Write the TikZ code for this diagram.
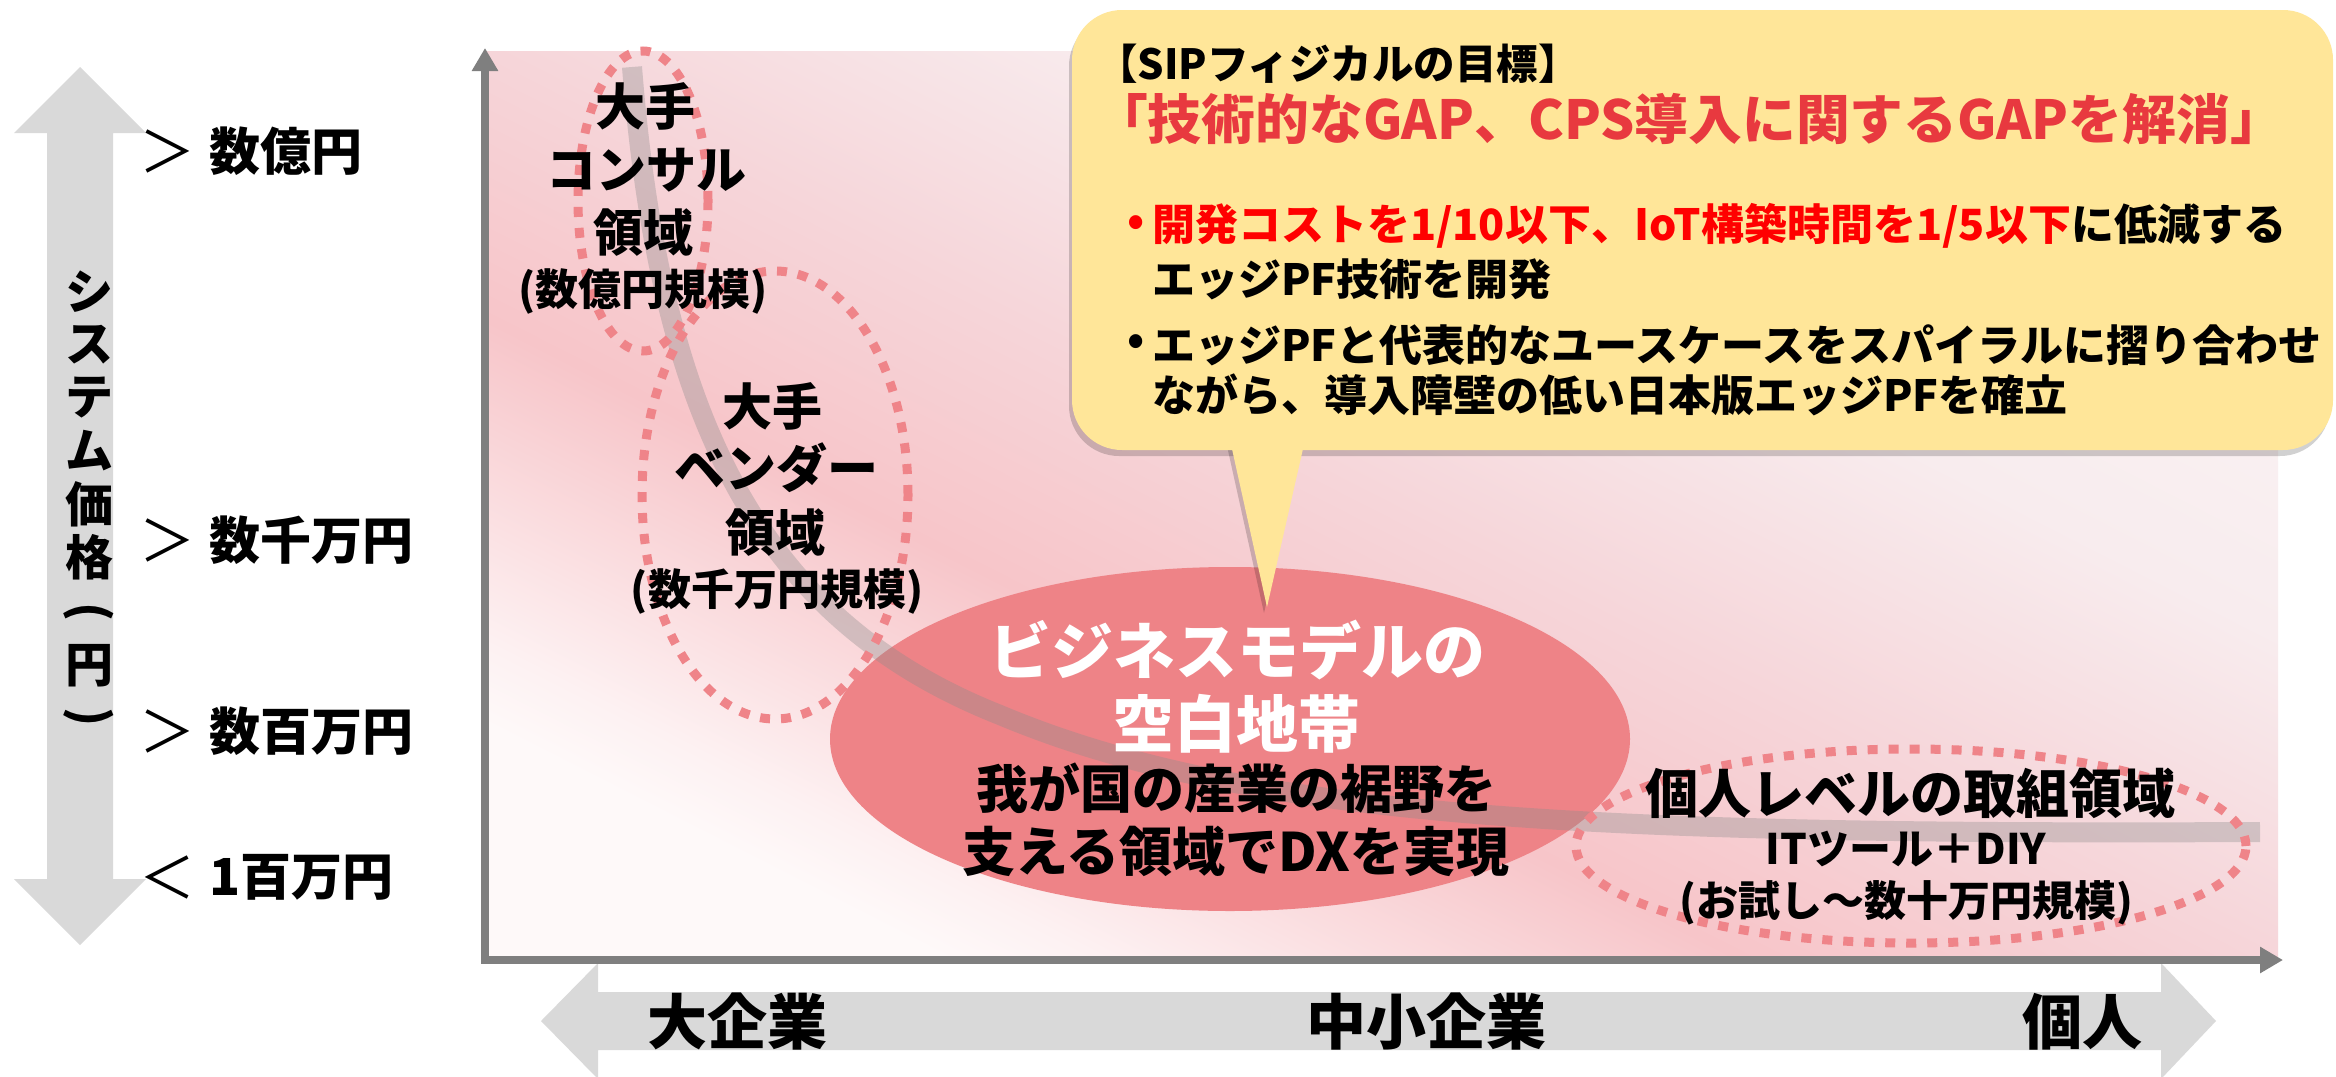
\documentclass[tikz,border=0pt]{standalone}
\usepackage{fontspec}
\setmainfont{Noto Sans CJK JP}
\usetikzlibrary{arrows.meta}
\definecolor{arrowgray}{HTML}{D9D9D9}
\definecolor{axisgray}{HTML}{7F7F7F}
\definecolor{dotpink}{HTML}{EF8489}
\definecolor{gapred}{HTML}{EE8387}
\definecolor{calloutfill}{HTML}{FFE699}
\definecolor{titlered}{HTML}{E8393F}
\definecolor{bulletred}{HTML}{FF0000}
\definecolor{curvegray}{HTML}{8C8C8C}
\definecolor{bgA}{HTML}{FEF9F9}
\definecolor{bgB}{HTML}{FDF1F2}
\definecolor{bgS}{HTML}{F7C5C9}
\definecolor{bgM}{HTML}{F6D5D9}
\definecolor{bgL}{HTML}{F8ECEE}
\definecolor{bgT}{HTML}{FAF3F4}
\pgfdeclareverticalshading{chartbg}{100bp}{color(0bp)=(bgA); color(25bp)=(bgA); color(28bp)=(bgB); color(40bp)=(bgS); color(50bp)=(bgM); color(62bp)=(bgL); color(75bp)=(bgT); color(100bp)=(bgT)}
\tikzset{
  txt/.style={inner sep=0pt, outer sep=0pt, font=\bfseries\fontsize{#1}{#1}\selectfont},
  thin/.style={inner sep=0pt, outer sep=0pt, font=\mdseries\fontsize{#1}{#1}\selectfont},
  dotell/.style={draw=dotpink, line width=9pt, dash pattern=on 10pt off 11pt},
  bigarrow/.style={fill=arrowgray},
  curveline/.style={draw=curvegray, draw opacity=0.35, line width=20pt},
}
\begin{document}
\begin{tikzpicture}[x=1pt,y=-1pt]
\useasboundingbox (0,0) rectangle (2336,1076);
\fill[white] (0,0) rectangle (2336,1076);

% left double arrow
\fill[bigarrow] (80,67) -- (146,133) -- (113,133) -- (113,879) -- (146,879) -- (80,945)
  -- (14,879) -- (47,879) -- (47,133) -- (14,133) -- cycle;
% bottom double arrow
\fill[bigarrow] (541,1021) -- (598,963) -- (598,992) -- (2161,992) -- (2161,963) -- (2216,1021)
  -- (2161,1079) -- (2161,1050) -- (598,1050) -- (598,1079) -- cycle;

% chart background
\shade[shading=chartbg, shading angle=-27] (484,51) rectangle (2278,958);

% axes
\coordinate (ytip) at (485,48);
\coordinate (origin) at (485,960);
\coordinate (xtip) at (2283,960);
\draw[axisgray, line width=8pt, {Triangle[length=23pt,width=25pt]}-{Triangle[length=23pt,width=25pt]}]
  (ytip) -- (origin) -- (xtip);

% red ellipse
\fill[gapred] (1230,739) ellipse [x radius=400pt, y radius=172pt];

% curve
\coordinate (cstart) at (632,67);
\coordinate (cmid) at (1000,715);
\coordinate (cend) at (2260,832);
\draw[curveline] (cstart) .. controls (660,420) and (760,620) .. (cmid)
  .. controls (1250,820) and (1600,835) .. (cend);

% dotted ellipses
\draw[dotell] (643,201) ellipse [x radius=65pt, y radius=150pt];
\draw[dotell] (775,495) ellipse [x radius=133pt, y radius=224pt];
\draw[dotell] (1911,846) ellipse [x radius=335pt, y radius=97pt];

% vertical axis label
\node[txt=48] (v1) at (89,292) {シ};
\node[txt=48] (v2) at (89,345) {ス};
\node[txt=48] (v3) at (89,398) {テ};
\node[txt=48] (v4) at (89,451) {ム};
\node[txt=48] (v5) at (89,504) {価};
\node[txt=48] (v6) at (89,557) {格};
\node[txt=48, rotate=-90] (v7) at (89,612) {(};
\node[txt=48] (v8) at (89,666) {円};
\node[txt=48, rotate=-90] (v9) at (89,717) {)};

% tick labels
\node[thin=56] (g1) at (167,151) {＞};
\node[txt=51, anchor=west] (l1) at (209,151) {数億円};
\node[thin=56] (g2) at (167,540) {＞};
\node[txt=51, anchor=west] (l2) at (209,540) {数千万円};
\node[thin=56] (g3) at (167,731) {＞};
\node[txt=51, anchor=west] (l3) at (209,731) {数百万円};
\node[thin=56] (g4) at (167,877) {＜};
\node[txt=51, anchor=west] (l4) at (209,877) {1百万円};

% consulting area
\node[txt=50] (c1) at (645,106) {大手};
\node[txt=50] (c2) at (646,170) {コンサル};
\node[txt=50] (c3) at (643,233) {領域};
\node[txt=43] (c4) at (643,291) {(数億円規模)};

% vendor area
\node[txt=50] (d1) at (772,406) {大手};
\node[txt=51] (d2) at (776,468) {ベンダー};
\node[txt=50] (d3) at (775,533) {領域};
\node[txt=43] (d4) at (777,591) {(数千万円規模)};

% gap ellipse text
\node[txt=62, text=white] (e1) at (1237,650) {ビジネスモデルの};
\node[txt=62, text=white] (e2) at (1236,724) {空白地帯};
\node[txt=52] (e3) at (1236,788) {我が国の産業の裾野を};
\node[txt=53] (e4) at (1236,852) {支える領域でDXを実現};

% personal area
\node[txt=53] (p1) at (1910,793) {個人レベルの取組領域};
\node[txt=42] (p2) at (1906,849) {ITツール＋DIY};
\node[txt=42] (p3) at (1906,903) {(お試し～数十万円規模)};

% bottom labels
\node[txt=60] (b1) at (737,1022) {大企業};
\node[txt=60] (b2) at (1426,1022) {中小企業};
\node[txt=60] (b3) at (2082,1022) {個人};

% callout shadow
\begin{scope}[shift={(-3,6)}]
  \fill[black, opacity=0.18] (1072,10) [rounded corners=50pt] rectangle (2333,450);
  \fill[black, opacity=0.18] (1230,440) -- (1267,607) -- (1305,440) -- cycle;
\end{scope}
% callout
\fill[calloutfill] (1072,10) [rounded corners=50pt] rectangle (2333,450);
\fill[calloutfill] (1230,440) -- (1267,607) -- (1305,440) -- cycle;

\node[txt=41.5, anchor=west] (k1) at (1096,64) {【SIPフィジカルの目標】};
\node[txt=53.8, anchor=west, text=titlered] (k2) at (1094,119) {「技術的なGAP、CPS導入に関するGAPを解消」};
\node[txt=43, text=bulletred] (k3b) at (1136,226) {•};
\node[txt=43, anchor=west] (k3) at (1152,226) {{\color{bulletred}開発コストを1/10以下、IoT構築時間を1/5以下}に低減する};
\node[txt=43, anchor=west] (k4) at (1152,279) {エッジPF技術を開発};
\node[txt=43] (k5b) at (1136,345) {•};
\node[txt=43, anchor=west] (k5) at (1152,345) {エッジPFと代表的なユースケースをスパイラルに摺り合わせ};
\node[txt=43, anchor=west] (k6) at (1152,395) {ながら、導入障壁の低い日本版エッジPFを確立};
\end{tikzpicture}
\end{document}
